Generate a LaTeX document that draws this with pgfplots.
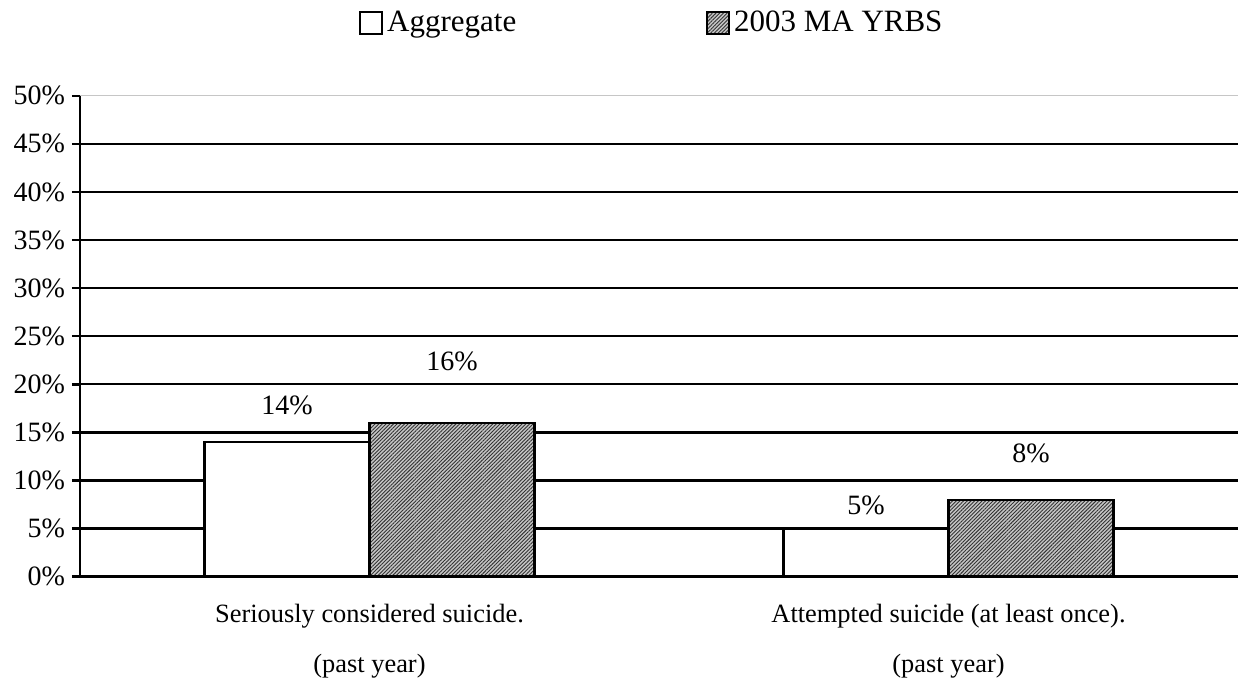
\documentclass[border=0pt]{standalone}
\usepackage{fontspec}
\setmainfont{Liberation Serif}
\usepackage{pgfplots}
\pgfplotsset{compat=1.18}
\usetikzlibrary{patterns.meta}
\begin{document}
\begin{tikzpicture}[font=\fontsize{14}{16}\selectfont]
\path[use as bounding box] (0,0) rectangle (621pt,342.5pt);
\begin{axis}[
  at={(40pt,54.15pt)}, anchor=south west,
  scale only axis, width=579pt, height=240.5pt,
  ybar=0pt, bar width=82.5pt,
  xmin=-0.5, xmax=1.5, ymin=0, ymax=50,
  axis x line*=bottom, axis y line*=left,
  axis line style={line width=1.2pt, -},
  /pgf/number format/assume math mode=true,
  ytick={0,5,...,50},
  yticklabel={\pgfmathprintnumber{\tick}\%},
  yticklabel style={font=\fontsize{14}{16}\selectfont},
  tick align=outside,
  major tick length=4pt,
  y tick style={line width=1.2pt, black},
  extra y ticks={5,10,...,45},
  extra y tick labels={},
  extra y tick style={grid=major, major tick length=0pt, grid style={black, line width=1.1pt}},
  xtick={0,1},
  xticklabels={{Seriously considered suicide.\\(past year)},{Attempted suicide (at least once).\\(past year)}},
  xticklabel style={align=center, font=\fontsize{13.2}{25}\selectfont, yshift=-6pt},
  x tick style={draw=none},
  extra x ticks={-0.5,0.5,1.5},
  extra x tick labels={},
  extra x tick style={major tick length=5pt, tick style={draw=black, line width=1.2pt}},
  legend columns=2,
  legend style={at={(0.2409,1.1511)}, anchor=west, draw=none, fill=none, inner sep=0pt,
    font=\fontsize{15.5}{18}\selectfont,
    nodes={inner sep=2pt},
    /tikz/every even column/.append style={column sep=93pt}},
  legend image code/.code={\draw[#1, line width=0.9pt] (0pt,-5.5pt) rectangle (11pt,5.5pt);},
]
\addplot[draw=black, fill=white, line width=1.2pt] coordinates {(0,14) (1,5)};
\addplot[draw=black, fill=gray!45, line width=1.2pt,
  postaction={pattern={Lines[angle=45,distance=1.3pt,line width=0.45pt]}, pattern color=black!80}]
  coordinates {(0,16) (1,8)};
\legend{Aggregate, 2003 MA YRBS}
\draw[gray!45, line width=0.6pt] (rel axis cs:0,1) -- (rel axis cs:1,1);
\node at (axis cs:-0.1425,17.85) {14\%};
\node at (axis cs:0.1425,22.35) {16\%};
\node at (axis cs:0.8575,7.45) {5\%};
\node at (axis cs:1.1425,12.8) {8\%};
\end{axis}
\end{tikzpicture}
\end{document}
